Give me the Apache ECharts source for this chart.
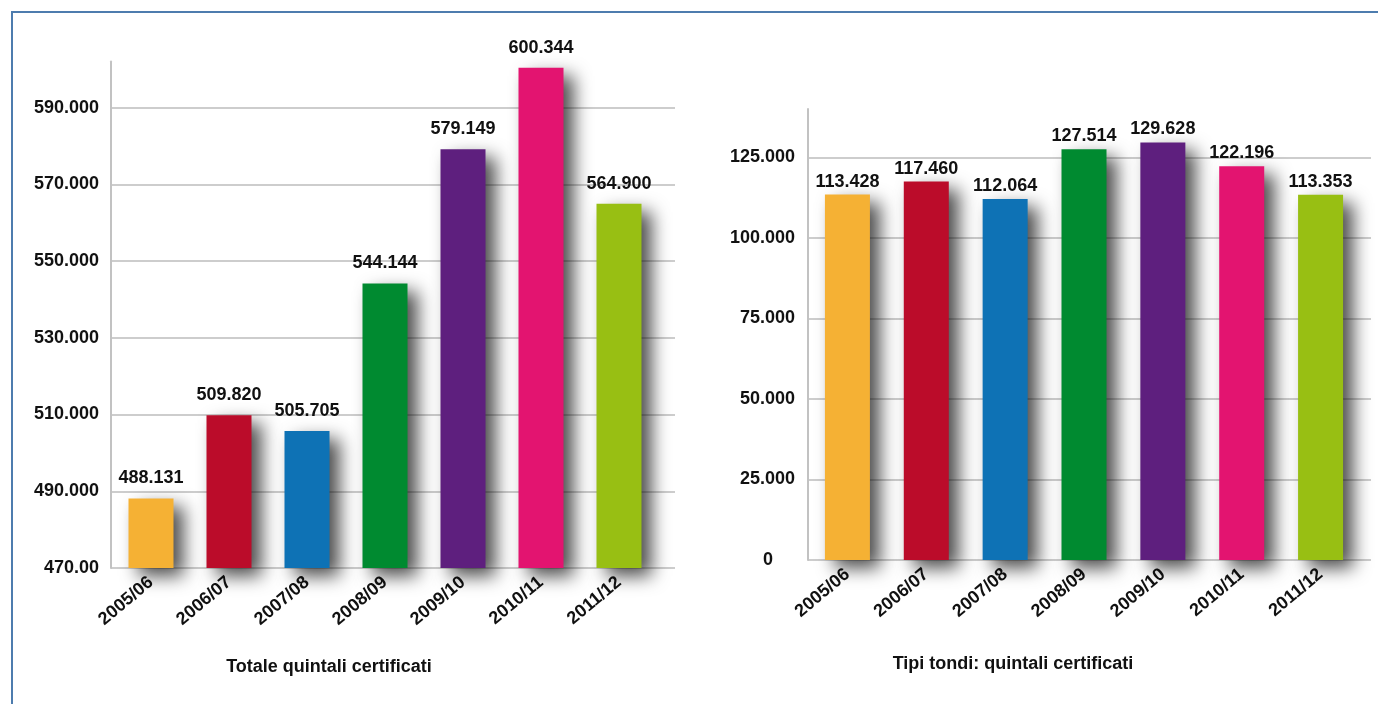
<!DOCTYPE html>
<html>
<head>
<meta charset="utf-8">
<script src="https://cdn.jsdelivr.net/npm/echarts@6/dist/echarts.min.js"></script>
<style>
  html, body { margin: 0; padding: 0; background: #ffffff; }
  #chart { width: 1378px; height: 704px; }
  #frame {
    position: absolute; left: 11px; top: 11px; right: 0; bottom: 0;
    border-top: 2px solid #4d7cae; border-left: 2px solid #4d7cae;
    pointer-events: none;
  }
</style>
</head>
<body>
<div id="chart"></div>
<div id="frame"></div>
<script>
// Seasons shown on both charts
const seasons = ['2005/06', '2006/07', '2007/08', '2008/09', '2009/10', '2010/11', '2011/12'];

// Total certified quintals (thousands)
const totalValues = [488.131, 509.820, 505.705, 544.144, 579.149, 600.344, 564.900];
// Round types: certified quintals (thousands)
const roundValues = [113.428, 117.460, 112.064, 127.514, 129.628, 122.196, 113.353];

// Tick labels as printed on each value axis
const totalTicks = ['470.00', '490.000', '510.000', '530.000', '550.000', '570.000', '590.000'];
const roundTicks = ['0', '25.000', '50.000', '75.000', '100.000', '125.000'];

const seasonColors = ['#f5b134', '#bb0c2a', '#0e72b5', '#008a30', '#5e1f7e', '#e31470', '#98bf13'];

const titles = ['Totale quintali certificati', 'Tipi tondi: quintali certificati'];

const FONT = "'Liberation Sans', Arial, sans-serif";
const TXT = { fontFamily: FONT, fontWeight: 'bold', fontSize: 18, color: '#111111' };

const fmt = v => v.toFixed(3);

function backAxis(gridIndex, min, max, interval, ticks, margin, zeroPad) {
  return {
    gridIndex, type: 'value', min, max, interval,
    axisLine: { show: true, lineStyle: { color: '#c2c2c2', width: 2 } },
    axisTick: { show: false },
    axisLabel: Object.assign({}, TXT, {
      margin, showMaxLabel: false,
      formatter: (v, i) => {
        const t = ticks[i];
        if (t === undefined) return '';
        return zeroPad && i === 0 ? '{z|' + t + '}' : t;
      },
      rich: { z: Object.assign({}, TXT, { padding: [0, 22, 0, 0] }) }
    }),
    splitLine: { show: true, showMaxLine: false, lineStyle: { color: '#bdbdbd', width: 1.5 } }
  };
}

function frontAxis(gridIndex, min, max) {
  return {
    gridIndex, type: 'value', min, max, show: false,
    splitLine: { show: false }
  };
}

function barSeries(xi, yi, values, dist) {
  return {
    type: 'bar', xAxisIndex: xi, yAxisIndex: yi,
    barWidth: 45,
    data: values.map((v, i) => ({ value: v, itemStyle: { color: seasonColors[i] } })),
    itemStyle: {
      shadowColor: 'rgba(0,0,0,0.7)', shadowBlur: 18,
      shadowOffsetX: 10, shadowOffsetY: 8
    },
    label: Object.assign({}, TXT, {
      show: true, position: 'top', distance: dist,
      formatter: p => fmt(p.value)
    }),
    emphasis: { disabled: true },
    animation: false
  };
}

const catAxis = gridIndex => ({
  gridIndex, type: 'category', data: seasons,
  axisLine: { show: false }, axisTick: { show: false },
  axisLabel: Object.assign({}, TXT, { rotate: 40, margin: 12, interval: 0 })
});

const chart = echarts.init(document.getElementById('chart'), null, { renderer: 'canvas' });

const titleStyle = text => Object.assign({}, TXT, {
  text, fill: '#111111', font: 'bold 18px ' + FONT, align: 'center', verticalAlign: 'top'
});

chart.setOption({
  backgroundColor: '#ffffff',
  animation: false,
  grid: [
    { left: 111, top: 61.5, width: 564, height: 506.5 },
    { left: 112, top: 61.5, width: 546, height: 506.5 },
    { left: 808, top: 109, width: 563, height: 451 },
    { left: 808, top: 109, width: 552, height: 451 }
  ],
  xAxis: [
    { gridIndex: 0, type: 'value', show: false, splitLine: { show: false } },
    catAxis(1),
    { gridIndex: 2, type: 'value', show: false, splitLine: { show: false } },
    catAxis(3)
  ],
  yAxis: [
    backAxis(0, 470, 602, 20, totalTicks, 12, false),
    frontAxis(1, 470, 602),
    backAxis(2, 0, 140, 25, roundTicks, 13, true),
    frontAxis(3, 0, 140)
  ],
  graphic: [
    { type: 'text', x: 329, y: 658, style: titleStyle(titles[0]) },
    { type: 'text', x: 1013, y: 655, style: titleStyle(titles[1]) }
  ],
  series: [
    barSeries(1, 1, totalValues, 11),
    barSeries(3, 3, roundValues, 4)
  ]
});
</script>
</body>
</html>
